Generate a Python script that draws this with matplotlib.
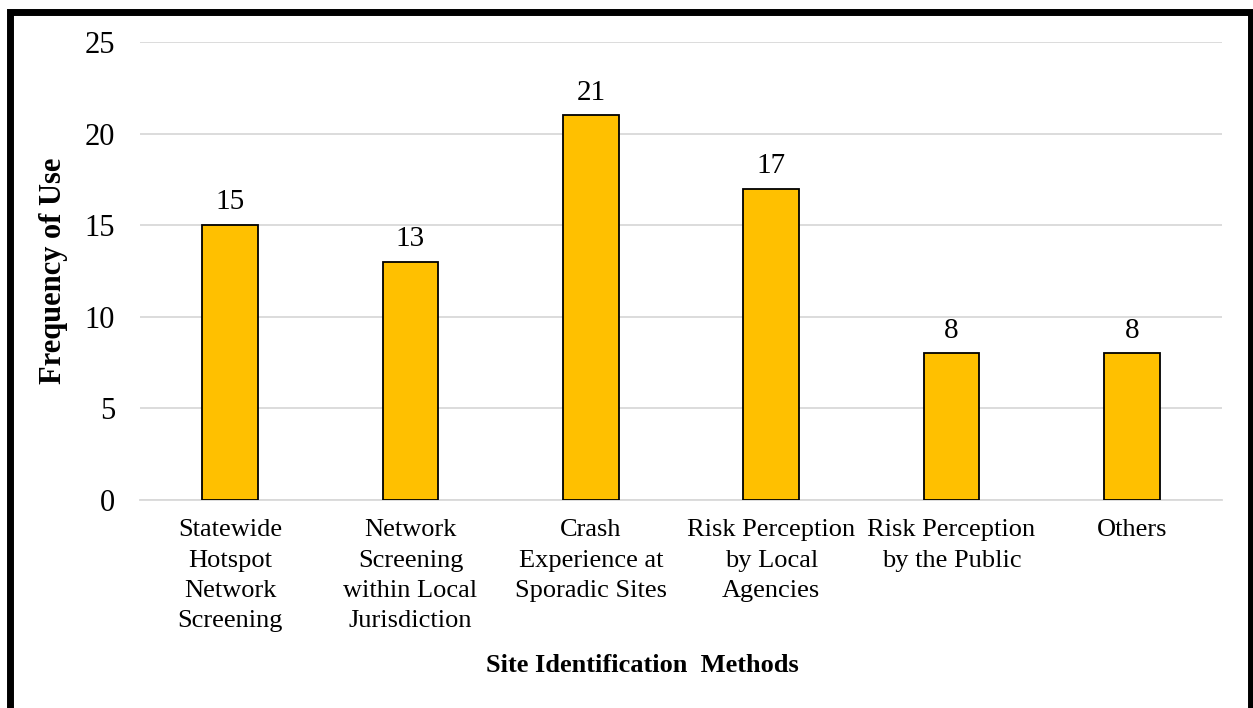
import matplotlib
matplotlib.use("Agg")
import matplotlib.pyplot as plt
from matplotlib.patches import Rectangle

# data
categories = ["Statewide\nHotspot\nNetwork\nScreening",
              "Network\nScreening\nwithin Local\nJurisdiction",
              "Crash\nExperience at\nSporadic Sites",
              "Risk Perception\nby Local\nAgencies",
              "Risk Perception\nby the Public",
              "Others"]
values = [15, 13, 21, 17, 8, 8]
yticks = [0, 5, 10, 15, 20, 25]

plt.rcParams['font.family'] = ['Liberation Serif', 'DejaVu Serif']

fig = plt.figure(figsize=(12.53, 7.08), dpi=100)
ax = fig.add_axes([140/1253, 1 - 500/708, 1082/1253, 458/708])

x = range(len(categories))
bars = ax.bar(x, values, width=0.31, color='#FFC000', edgecolor='black', linewidth=1.3, zorder=3)
for xi, v in zip(x, values):
    ax.annotate(str(v), (xi, v), xytext=(0, 7), textcoords='offset points',
                ha='center', va='bottom', fontsize=21)

ax.set_xlim(-0.5, len(categories) - 0.5)
ax.set_ylim(0, 25)
ax.set_yticks(yticks)
ax.set_xticks(list(x))
ax.set_xticklabels(categories, fontsize=19, linespacing=1.48)
ax.tick_params(axis='y', labelsize=22, length=0, pad=18)
ax.tick_params(axis='x', length=0, pad=14)
ax.grid(axis='y', color='#D9D9D9', linewidth=1.3, zorder=0)
for s in ['top', 'right', 'left']:
    ax.spines[s].set_visible(False)
ax.spines['bottom'].set_color('#D9D9D9')
ax.spines['bottom'].set_linewidth(1.3)

ax.set_ylabel('Frequency of Use', fontsize=22, fontweight='bold', labelpad=12)
fig.text(642/1253, 1 - 665/708, 'Site Identification  Methods', ha='center', va='center',
         fontsize=19, fontweight='bold')

# outer frame
fig.patches.append(Rectangle((9.5/1253, -0.05), 1241.5/1253, 1.05 - 12.5/708, transform=fig.transFigure,
                             fill=False, edgecolor='black', linewidth=5, clip_on=False))

fig.savefig('out.png', dpi=100)
